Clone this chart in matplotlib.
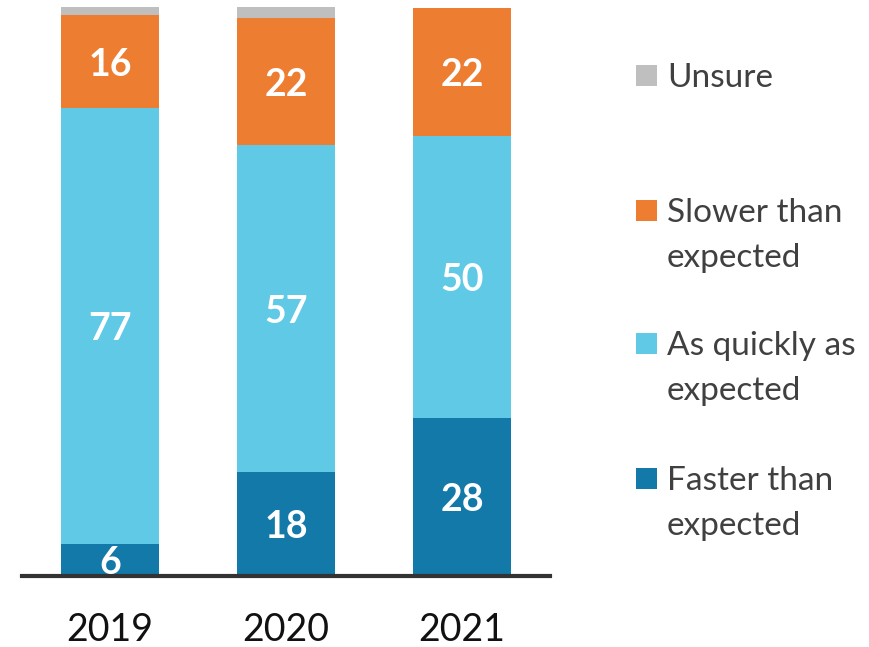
import matplotlib.pyplot as plt
from matplotlib.patches import Rectangle

plt.rcParams['font.family'] = ['Lato', 'DejaVu Sans']

years = ['2019', '2020', '2021']
series = [['Faster than', 'expected'], ['As quickly as', 'expected'],
          ['Slower than', 'expected'], ['Unsure']]
faster = [5.6, 18.3, 27.8]
as_quickly = [76.6, 57.4, 49.6]
slower = [16.4, 22.4, 22.5]
unsure = [1.4, 1.9, 0.0]
faster_lbl = [6, 18, 28]
as_quickly_lbl = [77, 57, 50]
slower_lbl = [16, 22, 22]
colors = ['#1279a8', '#5fc9e6', '#ed7d31', '#bfbfbf']

W, H = 869, 647
fig = plt.figure(figsize=(W / 100, H / 100), dpi=100)
ax = fig.add_axes([22 / W, (H - 576) / H, (550 - 22) / W, (576 - 7) / H])

x = range(len(years))
values = [faster, as_quickly, slower, unsure]
labels = [faster_lbl, as_quickly_lbl, slower_lbl, None]
bottom = [0.0] * len(years)
for vals, lbls, col in zip(values, labels, colors):
    ax.bar(x, vals, width=0.557, bottom=bottom, color=col, linewidth=0)
    if lbls is not None:
        for i, (v, l) in enumerate(zip(vals, lbls)):
            ax.text(i, bottom[i] + v / 2, str(l), ha='center', va='center_baseline',
                    color='white', fontsize=27, fontweight='bold')
    bottom = [b + v for b, v in zip(bottom, vals)]

ax.set_xlim(-0.5, 2.5)
ax.set_ylim(0, 100)
ax.set_xticks(list(x))
ax.set_xticklabels(years, fontsize=27, color='#111111')
ax.tick_params(axis='x', length=0, pad=26)
ax.set_yticks([])
for s in ['top', 'left', 'right']:
    ax.spines[s].set_visible(False)
ax.spines['bottom'].set_linewidth(3)
ax.spines['bottom'].set_color('#333333')

# legend drawn by hand to keep the uneven layout of the original
leg_y = [478, 343, 210, 75]
for lines, col, yc in zip(series, colors, leg_y):
    fig.patches.append(Rectangle((636 / W, (H - yc - 10.5) / H), 21 / W, 21 / H,
                                 transform=fig.transFigure, color=col, lw=0))
    for k, line in enumerate(lines):
        fig.text(667 / W, (H - yc - 45 * k) / H, line, ha='left', va='center_baseline',
                 fontsize=24, color='#404040')

fig.savefig('out.png', dpi=100)
